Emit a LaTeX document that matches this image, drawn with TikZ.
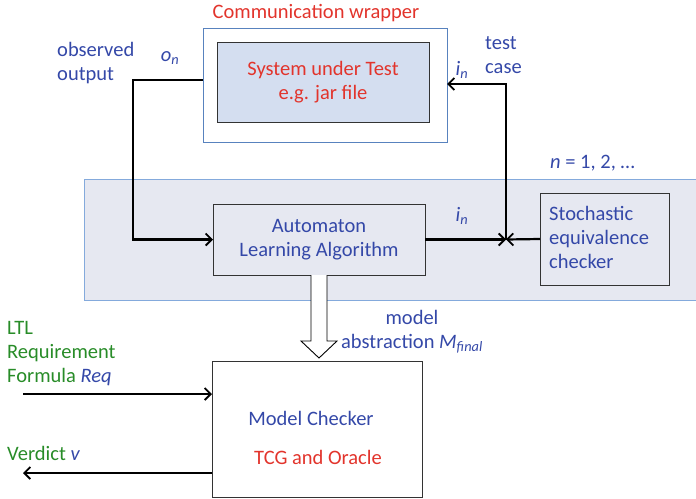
\documentclass[tikz,border=0pt]{standalone}
\usepackage{fontspec}
\setmainfont{Carlito}
\usetikzlibrary{arrows.meta,calc}
\definecolor{txtblue}{RGB}{52,72,168}
\definecolor{txtred}{RGB}{226,52,44}
\definecolor{txtgreen}{RGB}{40,140,40}
\definecolor{panelfill}{RGB}{230,232,241}
\definecolor{panelline}{RGB}{132,170,220}
\definecolor{sutfill}{RGB}{212,222,240}
\definecolor{wrapline}{RGB}{88,130,190}
\newcommand{\lowidx}[2]{\textit{#1}\textsubscript{\textit{#2}}}
\begin{document}
\begin{tikzpicture}[x=1pt,y=-1pt,
  every node/.style={font=\fontsize{20.5}{24}\selectfont},
  box/.style={draw=black!80, line width=0.9pt, inner sep=0pt, outer sep=0pt},
  lbl/.style={align=left, anchor=west, inner sep=0pt},
  flow/.style={draw=black, line width=2.2pt, -{Straight Barb[length=6pt,width=12pt,line width=1.8pt]}}]
\useasboundingbox (0,0) rectangle (696,498);

% learning panel
\draw[fill=panelfill, draw=panelline, line width=0.9pt] (84,179) rectangle (700,300);

% communication wrapper and system under test
\node[draw=wrapline, line width=0.9pt, inner sep=0pt, outer sep=0pt,
      minimum width=244pt, minimum height=114pt] (wrap) at (325,85) {};
\node[box, fill=sutfill, minimum width=212pt, minimum height=80pt, align=center,
      text=txtred] (sut) at (323,82) {System under Test\\e.g. jar file};
\node[text=txtred, inner sep=0pt] (wraptitle) at (316,13) {Communication wrapper};

% learner and equivalence checker
\node[box, minimum width=212pt, minimum height=71pt, align=center,
      text=txtblue] (auto) at (319,239.5) {Automaton\\Learning Algorithm};
\node[box, minimum width=129pt, minimum height=92pt] (stoch) at (604.5,239) {};
\node[lbl, text=txtblue] (stochtxt) at (549,237) {Stochastic\\equivalence\\checker};

% model checker
\node[box, minimum width=210pt, minimum height=136pt] (mc) at (317,429) {};
\node[text=txtblue, inner sep=0pt] (mctxt) at (311,418) {Model Checker};
\node[text=txtred, inner sep=0pt] (tcg) at (318,457) {TCG and Oracle};

% connectors
\coordinate (junc) at (506,239.5);
\coordinate (bend) at (133,239.5);
\draw[flow] ([yshift=5pt]wrap.west) -| (bend) -- (auto.west);
\draw[flow] (auto.east) -- (junc);
\draw[flow] (stoch.west) -- (junc);
\draw[flow] (junc) |- ([yshift=1pt]wrap.east);

% hollow arrow from learner to model checker
\draw[fill=white, draw=black, line width=0.9pt]
  ($(auto.south)+(-8,0)$) -- ++(0,66) -- ++(-10,0) -- ($(auto.south)+(0,83)$)
  -- ($(auto.south)+(18,66)$) -- ++(-10,0) -- ($(auto.south)+(8,0)$);

% requirement input and verdict output
\coordinate (reqin) at (23,394);
\coordinate (verdout) at (23,473);
\draw[flow] (reqin) -- (reqin -| mc.west);
\draw[flow] (verdout -| mc.west) -- (verdout);

% labels
\node[lbl, text=txtblue] (obs) at (57,63.5) {observed\\output};
\node[text=txtblue, inner sep=0pt] (on) at (170,58) {\lowidx{o}{n}};
\node[lbl, text=txtblue] (tc) at (485,55) {test\\case};
\node[text=txtblue, inner sep=0pt] (inup) at (462,70) {\lowidx{i}{n}};
\node[text=txtblue, inner sep=0pt] (indn) at (462,216) {\lowidx{i}{n}};
\node[lbl, text=txtblue] (nrange) at (550,163) {\textit{n} = 1, 2, \dots};
\node[align=center, text=txtblue, inner sep=0pt] (abs) at (412,332) {model\\abstraction \lowidx{M}{final}};
\node[lbl, text=txtgreen] (req) at (7,354) {LTL\\Requirement\\Formula \textcolor{txtblue}{\textit{Req}}};
\node[lbl, text=txtgreen] (verd) at (7,453) {Verdict \textcolor{txtblue}{\textit{v}}};
\end{tikzpicture}
\end{document}
